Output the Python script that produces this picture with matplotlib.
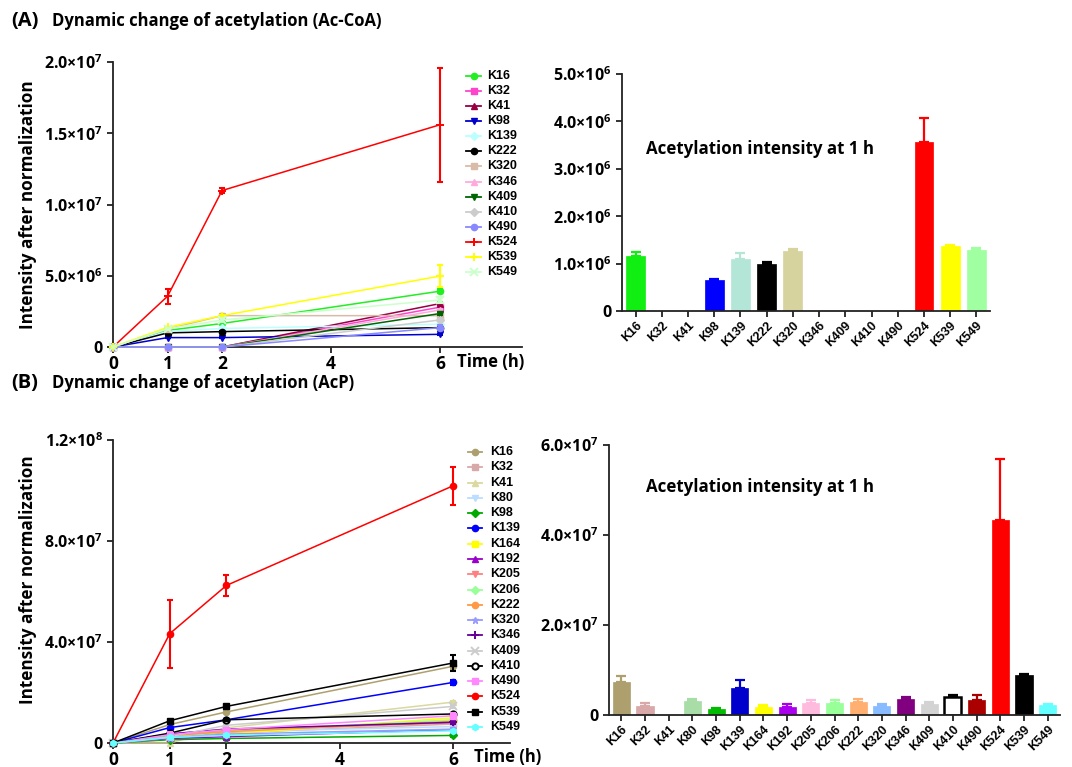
import numpy as np
import matplotlib
matplotlib.use('Agg')
import matplotlib.pyplot as plt
from matplotlib.lines import Line2D

plt.rcParams['font.family'] = ['Open Sans', 'DejaVu Sans']
plt.rcParams['font.weight'] = 'bold'
plt.rcParams['mathtext.fontset'] = 'custom'
plt.rcParams['mathtext.rm'] = 'Open Sans'
plt.rcParams['mathtext.bf'] = 'Open Sans:bold'
plt.rcParams['mathtext.default'] = 'bf'

times = [0, 1, 2, 6]

# ---- panel A (Ac-CoA), values in units of 1e6 ----
a_sites = ['K16', 'K32', 'K41', 'K98', 'K139', 'K222', 'K320', 'K346',
           'K409', 'K410', 'K490', 'K524', 'K539', 'K549']
a_h1 = [1.16, 0, 0, 0.66, 1.10, 0.99, 1.26, 0, 0, 0, 0, 3.56, 1.38, 1.28]
a_h1_err = [0.08, 0, 0, 0.02, 0.13, 0.05, 0.04, 0, 0, 0, 0, 0.52, 0.02, 0.05]
a_h2 = [1.65, 0, 0, 0.66, 1.30, 1.08, 2.20, 0, 0, 0, 0, 10.98, 2.20, 1.90]
a_h2_err = [0.05, 0, 0, 0.03, 0.05, 0.05, 0.15, 0, 0, 0, 0, 0.20, 0.08, 0.15]
a_h6 = [3.92, 2.80, 3.05, 0.89, 1.60, 1.36, 2.20, 2.60, 2.35, 1.90, 1.36, 15.6, 4.98, 3.30]
a_h6_err = [0.15, 0.10, 0.10, 0.05, 0.20, 0.05, 0.10, 0.10, 0.10, 0.10, 0.20, 4.0, 0.80, 0.20]
a_line_colors = ['#22ee22', '#ff44cc', '#990044', '#0000cc', '#bbffff', '#000000', '#d9bba9',
                 '#ffaadd', '#006600', '#cccccc', '#8888ff', '#ff0000', '#ffff00', '#ccffcc']
a_markers = ['o', 's', '^', 'v', 'D', 'o', 's', '^', 'v', 'D', 'o', '+', '+', 'x']
a_bar_colors = ['#11ee11', '#ff44cc', '#990044', '#0000ff', '#b3e6d6', '#000000', '#d6d39e',
                '#ffaadd', '#006600', '#cccccc', '#8888ff', '#ff0000', '#ffff00', '#a0ffa0']

# ---- panel B (AcP), values in units of 1e7 ----
b_sites = ['K16', 'K32', 'K41', 'K80', 'K98', 'K139', 'K164', 'K192', 'K205', 'K206',
           'K222', 'K320', 'K346', 'K409', 'K410', 'K490', 'K524', 'K539', 'K549']
b_h1 = [0.73, 0.20, 0, 0.31, 0.13, 0.61, 0.18, 0.18, 0.27, 0.27,
        0.29, 0.21, 0.36, 0.25, 0.39, 0.33, 4.33, 0.88, 0.22]
b_h1_err = [0.14, 0.07, 0, 0.04, 0.02, 0.17, 0.04, 0.07, 0.06, 0.07,
            0.07, 0.03, 0.05, 0.03, 0.05, 0.11, 1.35, 0.03, 0.02]
b_h2 = [1.23, 0.40, 0.60, 0.45, 0.18, 0.92, 0.35, 0.25, 0.50, 0.45,
        0.45, 0.35, 0.55, 0.70, 0.92, 0.53, 6.24, 1.45, 0.30]
b_h2_err = [0.05, 0.03, 0.03, 0.03, 0.02, 0.04, 0.03, 0.03, 0.03, 0.03,
            0.03, 0.03, 0.03, 0.03, 0.05, 0.03, 0.43, 0.05, 0.03]
b_h6 = [3.04, 0.75, 1.62, 0.65, 0.30, 2.40, 1.00, 0.53, 0.80, 0.92,
        0.86, 0.55, 0.82, 1.45, 1.15, 1.08, 10.19, 3.17, 0.48]
b_h6_err = [0.10, 0.05, 0.05, 0.05, 0.05, 0.10, 0.05, 0.05, 0.05, 0.05,
            0.05, 0.05, 0.05, 0.05, 0.05, 0.10, 0.75, 0.30, 0.05]
b_line_colors = ['#ada06e', '#d9a9a9', '#d9d9a0', '#bbddff', '#00aa00', '#0000ff', '#ffff00',
                 '#9900cc', '#ff8080', '#99ff99', '#ff9944', '#9999ff', '#660099', '#cccccc',
                 '#000000', '#ff88ff', '#ff0000', '#000000', '#66ffff']
b_markers = ['o', 's', '^', 'v', 'D', 'o', 's', '^', 'v', 'D', 'o', '*', '+', 'x',
             'o', 's', 'o', 's', 'h']
b_bar_colors = ['#ada06e', '#d9a9a9', '#d9d9a0', '#a8dda8', '#00bb00', '#0000cc', '#ffff00',
                '#aa00ee', '#ffbbdd', '#99ff99', '#ffb070', '#88bbff', '#800080', '#d3d3d3',
                '#ffffff', '#aa0000', '#ff0000', '#000000', '#66ffff']

W, H = 1072, 767


def fx(px):
    return px / W


def fy(py):
    return 1 - py / H


def sci(v):
    if v == 0:
        return '0'
    e = int(np.floor(np.log10(v) + 1e-9))
    return r'$%.1f{\times}10^{%d}$' % (v / 10 ** e, e)


def style_axes(ax):
    for s in ['top', 'right']:
        ax.spines[s].set_visible(False)
    for s in ['left', 'bottom']:
        ax.spines[s].set_linewidth(1.3)
        ax.spines[s].set_color('#222222')
    ax.tick_params(width=1.3, length=4, colors='#222222', labelcolor='black')


def marker_style(m, color, open_m):
    ms = 5.5 if m in ('+', 'x') else 4.5
    mfc = 'white' if open_m else color
    mew = 1.4 if (m in ('+', 'x') or open_m) else 1
    return dict(marker=m, ms=ms, mfc=mfc, mec=color, mew=mew)


def draw_lines(ax, sites, colors, markers, h1, h2, h6, e1, e2, e6, scale,
               yticks, xmax, ymax, open_marker=None):
    for i, s in enumerate(sites):
        y = np.array([0, h1[i], h2[i], h6[i]]) * scale
        err = np.array([0, e1[i], e2[i], e6[i]]) * scale
        ax.plot(times, y, color=colors[i], lw=1.1, clip_on=False, zorder=3 + i * 0.01,
                **marker_style(markers[i], colors[i], s == open_marker))
        keep = err > 0
        ax.errorbar(np.array(times)[keep], y[keep], yerr=err[keep], fmt='none',
                    ecolor=colors[i], elinewidth=1.5, capsize=2.5, capthick=1.5,
                    zorder=3 + i * 0.01, clip_on=False)
    style_axes(ax)
    ax.set_xlim(0, xmax)
    ax.set_ylim(0, ymax)
    ax.set_xticks([0, 1, 2, 4, 6])
    ax.set_xticklabels(['0', '1', '2', '4', '6'], fontsize=12.5, fontweight='bold')
    ax.set_yticks(yticks)
    ax.set_yticklabels([sci(v) for v in yticks], fontsize=11.5)
    ax.tick_params(axis='x', pad=1.5)


def draw_legend(sites, colors, markers, x0, x1, xt, y_first, step, open_marker=None):
    for i, s in enumerate(sites):
        yy = fy(y_first + i * step)
        fig.add_artist(Line2D([fx(x0), fx(x1)], [yy, yy], transform=fig.transFigure,
                              color=colors[i], lw=1.3))
        fig.add_artist(Line2D([fx((x0 + x1) / 2)], [yy], transform=fig.transFigure,
                              color=colors[i], **marker_style(markers[i], colors[i], s == open_marker)))
        fig.text(fx(xt), yy, s, fontsize=9, fontweight='bold', va='center',
                 family=['Liberation Sans', 'DejaVu Sans'])


def draw_bars(ax, sites, colors, vals, errs, scale, yticks, ymax):
    x = np.arange(len(sites))
    v = np.array(vals) * scale
    e = np.array(errs) * scale
    for i in range(len(sites)):
        ec = '#000000' if colors[i] == '#ffffff' else colors[i]
        lw = 1.8 if colors[i] == '#ffffff' else 0.5
        if v[i] > 0:
            ax.bar(x[i], v[i], width=0.72, color=colors[i], edgecolor=ec, linewidth=lw, zorder=2)
            ax.errorbar(x[i], v[i], yerr=[[0], [e[i]]], fmt='none', ecolor=ec,
                        elinewidth=1.6, capsize=3.5, capthick=1.6, zorder=1)
    style_axes(ax)
    ax.set_xlim(-0.52, len(sites) - 0.48)
    ax.set_ylim(0, ymax)
    ax.set_xticks(x)
    ax.set_xticklabels(sites, rotation=45, ha='right', rotation_mode='anchor',
                       fontsize=9, fontweight='bold', family=['Liberation Sans', 'DejaVu Sans'])
    ax.tick_params(axis='x', pad=2)
    ax.set_yticks(yticks)
    ax.set_yticklabels([sci(v) for v in yticks], fontsize=11.5)


fig = plt.figure(figsize=(10.72, 7.67), dpi=100)

# panel titles
fig.text(fx(11), fy(21), '(A)', fontsize=14.5, fontweight='bold', va='center')
fig.text(fx(52), fy(21), 'Dynamic change of acetylation (Ac-CoA)', fontsize=12, fontweight='bold', va='center')
fig.text(fx(11), fy(383), '(B)', fontsize=14.5, fontweight='bold', va='center')
fig.text(fx(52), fy(383), 'Dynamic change of acetylation (AcP)', fontsize=12, fontweight='bold', va='center')

# A line plot
ax1 = fig.add_axes([fx(113), fy(347), fx(522 - 113), (347 - 62) / H])
draw_lines(ax1, a_sites, a_line_colors, a_markers, a_h1, a_h2, a_h6,
           a_h1_err, a_h2_err, a_h6_err, 1e6, [0, 5e6, 1e7, 1.5e7, 2e7], 7.5, 2e7)
fig.text(fx(457), fy(362), 'Time (h)', fontsize=12, fontweight='bold', va='center')
draw_legend(a_sites, a_line_colors, a_markers, 466, 481, 487, 76, 15.08)

# A bar plot
ax2 = fig.add_axes([fx(622), fy(311), fx(990 - 622), (311 - 74) / H])
draw_bars(ax2, a_sites, a_bar_colors, a_h1, a_h1_err, 1e6,
          [0, 1e6, 2e6, 3e6, 4e6, 5e6], 5e6)
fig.text(fx(646), fy(149), 'Acetylation intensity at 1 h', fontsize=12.2, fontweight='bold', va='center')

# B line plot
ax3 = fig.add_axes([fx(113), fy(743), fx(510 - 113), (743 - 440) / H])
draw_lines(ax3, b_sites, b_line_colors, b_markers, b_h1, b_h2, b_h6,
           b_h1_err, b_h2_err, b_h6_err, 1e7, [0, 4e7, 8e7, 1.2e8], 7.0, 1.2e8,
           open_marker='K410')
fig.text(fx(474), fy(757), 'Time (h)', fontsize=12, fontweight='bold', va='center')
draw_legend(b_sites, b_line_colors, b_markers, 468, 482, 490, 452, 15.28, open_marker='K410')

# B bar plot
ax4 = fig.add_axes([fx(609), fy(715), fx(1060 - 609), (715 - 445) / H])
draw_bars(ax4, b_sites, b_bar_colors, b_h1, b_h1_err, 1e7, [0, 2e7, 4e7, 6e7], 6e7)
fig.text(fx(646), fy(487), 'Acetylation intensity at 1 h', fontsize=12.2, fontweight='bold', va='center')

# y labels
fig.text(fx(28), fy(205), 'Intensity after normalization', rotation=90, fontsize=12.3,
         fontweight='bold', ha='center', va='center')
fig.text(fx(28), fy(580), 'Intensity after normalization', rotation=90, fontsize=12.3,
         fontweight='bold', ha='center', va='center')

fig.savefig('out.png', dpi=100)
